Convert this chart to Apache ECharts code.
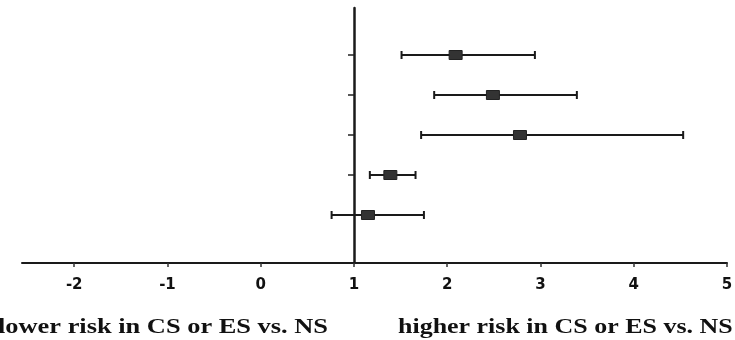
<!DOCTYPE html>
<html>
<head>
<meta charset="utf-8">
<script src="https://cdn.jsdelivr.net/npm/echarts@6/dist/echarts.min.js"></script>
<style>html,body{margin:0;padding:0;background:#fff}#c{width:735px;height:340px}</style>
</head>
<body>
<div id="c"></div>
<script>
// Rows from top to bottom
const rows = ['row1', 'row2', 'row3', 'row4', 'row5'];
const estimates = [2.09, 2.49, 2.78, 1.39, 1.15];
const lowerCI = [1.51, 1.86, 1.72, 1.17, 0.76];
const upperCI = [2.94, 3.39, 4.53, 1.66, 1.75];
const xTicks = [-2, -1, 0, 1, 2, 3, 4, 5];
const rowTicks = [1, 2, 3, 4, 5];
const leftNote = 'lower risk in CS or ES vs. NS';
const rightNote = 'higher risk in CS or ES vs. NS';

const data = rows.map((r, i) => [estimates[i], rows.length - i, lowerCI[i], upperCI[i]]);

const chart = echarts.init(document.getElementById('c'), null, {renderer: 'canvas'});
const noteFont = 'bold 22px "Liberation Serif", "Times New Roman", serif';
chart.setOption({
  animation: false,
  backgroundColor: '#fff',
  grid: {left: 22, right: 8, top: 8, bottom: 77, outerBoundsMode: 'none', containLabel: false},
  xAxis: {
    type: 'value', min: -2.56, max: 5,
    axisLine: {show: true, onZero: false, lineStyle: {color: '#1a1a1a', width: 2}},
    axisTick: {show: true, length: 4, customValues: xTicks, lineStyle: {color: '#333', width: 1.5}},
    axisLabel: {customValues: xTicks, margin: 15, color: '#111', fontFamily: '"DejaVu Sans", sans-serif', fontWeight: 'bold', fontSize: 15},
    splitLine: {show: false}
  },
  yAxis: {
    type: 'value', min: -0.2, max: 6.175,
    position: 'left', offset: -332,
    axisLine: {show: true, onZero: false, lineStyle: {color: '#1a1a1a', width: 2.5}},
    axisTick: {show: true, length: 6, customValues: rowTicks, lineStyle: {color: '#222', width: 1.5}},
    axisLabel: {show: false},
    splitLine: {show: false}
  },
  series: [{
    type: 'custom',
    data: data,
    renderItem: function (params, api) {
      const est = api.value(0), y = api.value(1), lo = api.value(2), hi = api.value(3);
      const pLo = api.coord([lo, y]);
      const pHi = api.coord([hi, y]);
      const pC = api.coord([est, y]);
      const cap = 4;
      const ls = {stroke: '#1a1a1a', lineWidth: 2};
      return {
        type: 'group',
        children: [
          {type: 'line', shape: {x1: pLo[0], y1: pLo[1], x2: pHi[0], y2: pHi[1]}, style: ls},
          {type: 'line', shape: {x1: pLo[0], y1: pLo[1] - cap, x2: pLo[0], y2: pLo[1] + cap}, style: ls},
          {type: 'line', shape: {x1: pHi[0], y1: pHi[1] - cap, x2: pHi[0], y2: pHi[1] + cap}, style: ls},
          {type: 'rect', shape: {x: pC[0] - 6.5, y: pC[1] - 4.5, width: 13, height: 9}, style: {fill: '#333', stroke: '#222', lineWidth: 1}}
        ]
      };
    }
  }],
  graphic: [
    {type: 'text', x: -2, y: 327, scaleX: 1.2, style: {text: leftNote, font: noteFont, fill: '#111', verticalAlign: 'middle'}},
    {type: 'text', x: 398, y: 327, scaleX: 1.18, style: {text: rightNote, font: noteFont, fill: '#111', verticalAlign: 'middle'}}
  ]
});
</script>
</body>
</html>
